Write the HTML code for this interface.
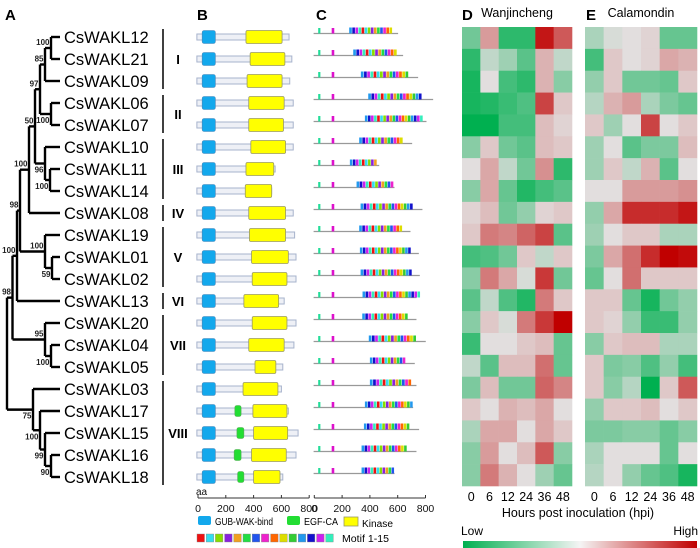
<!DOCTYPE html>
<html><head><meta charset="utf-8"><style>
html,body{margin:0;padding:0;background:#fff;}
svg{display:block;font-family:"Liberation Sans",sans-serif;}
</style></head><body>
<svg id="fig" width="700" height="548" viewBox="0 0 700 548"></svg>
<script>
const genes=["CsWAKL12","CsWAKL21","CsWAKL09","CsWAKL06","CsWAKL07","CsWAKL10","CsWAKL11","CsWAKL14","CsWAKL08","CsWAKL19","CsWAKL01","CsWAKL02","CsWAKL13","CsWAKL20","CsWAKL04","CsWAKL05","CsWAKL03","CsWAKL17","CsWAKL15","CsWAKL16","CsWAKL18"];
// domain structure (aa)
const protLen=[655,675,660,685,685,685,555,530,685,695,705,705,620,705,690,610,600,650,720,705,610];
const kinStart=[345,375,353,365,365,380,345,340,365,370,385,390,330,390,365,410,324,395,400,385,400];
const kinEnd=[605,625,605,620,615,630,545,530,630,630,650,640,580,640,620,560,575,640,645,635,590];
const egfStart=[0,0,0,0,0,0,0,0,0,0,0,0,0,0,0,0,0,265,280,260,285];
const egfEnd=[0,0,0,0,0,0,0,0,0,0,0,0,0,0,0,0,0,310,330,310,330];
// motif map (aa)
const motifLen=[603,639,747,855,807,704,467,577,778,692,752,759,735,735,802,723,735,711,754,735,577];
const motifStart=[251,280,335,388,364,323,256,304,333,323,328,333,347,345,392,400,400,364,357,340,340];
const motifEnd=[563,596,679,775,783,639,452,572,711,635,697,704,764,675,735,658,700,711,687,668,577];
// heatmap values (-1 low/green .. 1 high/red)
const hpi=["0","6","12","24","36","48"];
const wanjincheng=[
[-0.5,0.3,-0.8,-0.8,0.9,0.6],[-0.8,-0.15,-0.3,-0.6,0.2,-0.15],[-0.9,0,-0.7,-0.8,0.2,-0.4],
[-0.9,-0.85,-0.75,-0.65,0.7,0.1],[-1,-1,-0.7,-0.7,0.15,0.05],[-0.4,0.1,-0.5,-0.6,0.15,0.1],
[0,0.25,-0.15,-0.5,0.35,-0.8],[-0.4,0.25,-0.55,-0.85,-0.7,-0.6],[0.05,0.15,-0.5,-0.35,0.05,0.1],
[0.1,0.45,0.4,0.55,0.7,-0.6],[-0.7,-0.65,-0.5,0.1,-0.15,0.1],[-0.4,0.45,0.25,-0.05,0.75,-0.5],
[-0.6,-0.15,-0.65,-0.85,0.45,0.1],[-0.4,0.1,-0.05,0.45,0.75,1],[-0.75,0,0,0.1,0.15,-0.55],
[-0.15,-0.6,0.15,0.15,0.5,-0.55],[-0.45,0.15,-0.5,-0.5,0.55,0.4],[0.1,0,0.2,0.15,0.25,0],
[-0.25,0.25,0.25,0,0.25,0.1],[-0.4,0.3,0,0.15,0.6,-0.4],[-0.4,0.45,0.2,0,-0.3,-0.55]];
const calamondin=[
[-0.25,-0.05,0,0.05,-0.55,-0.55],[-0.7,0.1,0,0.05,0.25,0.2],[-0.35,0.1,-0.5,-0.5,-0.55,0.1],
[-0.2,0.2,0.3,-0.25,-0.45,-0.55],[0.1,-0.3,0,0.7,0,0.1],[-0.3,0,-0.6,-0.45,-0.45,0.15],
[-0.3,0.1,-0.15,0.2,-0.6,0],[0,0,0.3,0.3,0.3,0.35],[-0.35,0.25,0.8,0.8,0.8,0.9],
[-0.3,0,0.1,0.1,-0.25,-0.25],[-0.45,0.25,0.5,0.8,1,0.95],[-0.55,0,0.5,0.1,0.1,0.1],
[0.1,0.1,-0.55,-0.9,-0.5,-0.35],[0.1,0.05,-0.35,-0.75,-0.75,-0.35],[-0.4,0.1,0.15,0.15,-0.25,-0.25],
[0.1,-0.45,-0.4,-0.65,-0.35,-0.7],[0.1,-0.4,-0.2,-1,0.1,0.6],[-0.35,0.1,0.1,0.15,0,0.1],
[-0.45,-0.45,-0.4,-0.4,-0.55,-0.4],[-0.25,0,0,0,-0.55,0],[-0.2,0,-0.35,-0.55,-0.65,-0.9]];
const axisTicks=[0,200,400,600,800];
const motifColors=["#ee1111","#33ddee","#88dd00","#8822dd","#f0a020","#22dd44","#2255ee","#ee22cc","#ff6600","#dddd00","#33cc33","#2299ee","#1111cc","#cc22ee","#33eebb"];

const NS="http://www.w3.org/2000/svg";
const svg=document.getElementById("fig");
function el(tag,attrs,parent,text){const e=document.createElementNS(NS,tag);for(const k in attrs)e.setAttribute(k,attrs[k]);if(text!==undefined)e.textContent=text;(parent||svg).appendChild(e);return e;}
const rowY=i=>37+22*i;

[["A",5],["B",197],["C",316],["D",462],["E",586]].forEach(([t,x])=>{
 const e=el("text",{x:x,y:20,"font-size":15,"font-weight":"bold"},svg,t);
 
 
});

// ---- Tree ----
const gTree=el("g",{fill:"none",stroke:"#000","stroke-width":2.4});


function N(x,ch,bs,below){return {x,ch,bs,below};}
const a=N(51,[0,1],"100",0),b=N(45,[a,2],"85",0),c=N(51,[3,4],"100",1),d=N(40,[b,c],"97",0);
const e_=N(50,[6,7],"100",1),f=N(45,[5,e_],"96",1),g=N(35,[d,f],"50",0),h=N(29,[g,8],"100",0);
const i_=N(52,[10,11],"59",1),j=N(45,[9,i_],"100",0),k=N(20,[h,j],"98",0),l=N(17,[k,12],"100",0);
const m=N(51,[14,15],"100",1),n=N(45,[13,m],"95",0),o=N(12.5,[l,n],"98",0);
const p=N(51,[19,20],"90",1),q=N(45,[18,p],"99",1),r=N(40,[17,q],"100",1),s=N(33,[16,r],"75",1);
const root=N(7,[o,s],"",0);
function layout(nd){nd.ys=nd.ch.map(c=>typeof c==="number"?rowY(c):layout(c));nd.y=(nd.ys[0]+nd.ys[1])/2;return nd.y;}
layout(root);
function draw(nd){
 el("line",{x1:nd.x,y1:nd.ys[0],x2:nd.x,y2:nd.ys[1]},gTree);
 nd.ch.forEach((c,ci)=>{const y=nd.ys[ci];const x2=typeof c==="number"?60:c.x;
  el("line",{x1:nd.x,y1:y,x2:x2,y2:y},gTree);
  if(typeof c!=="number")draw(c);});
 if(nd.bs){const t=el("text",{x:nd.x-1.5,y:nd.below?nd.y+9:nd.y-3,"font-size":8,"font-weight":"bold","text-anchor":"end",fill:"#222",stroke:"none"},gTree,nd.bs);
  }
}
draw(root);
genes.forEach((gname,i)=>{const t=el("text",{x:64,y:rowY(i)+6,"font-size":16.5,fill:"#000"},svg,gname);
 });
const groups=[["I",0,2],["II",3,4],["III",5,7],["IV",8,8],["V",9,11],["VI",12,12],["VII",13,15],["VIII",16,20]];
groups.forEach(([t,s0,s1])=>{
 const gl=el("line",{x1:163,y1:rowY(s0)-8,x2:163,y2:rowY(s1)+8,stroke:"#000","stroke-width":1.5});
 
 const tx=el("text",{x:178,y:(rowY(s0)+rowY(s1))/2+5,"font-size":13,"font-weight":"bold","text-anchor":"middle"},svg,t);
 
});

// ---- Panel B domains ----
const bx=v=>198+v*0.139;
genes.forEach((gname,i)=>{
 const y=rowY(i);
 const gr=el("g",{});
 
 el("rect",{x:bx(-8),y:y-3,width:bx(protLen[i])-bx(-8),height:6,fill:"#eef0f6",stroke:"#a7b3cc","stroke-width":1},gr);
 el("rect",{x:bx(30),y:y-6.5,width:bx(125)-bx(30),height:13,rx:2,fill:"#13a8ec",stroke:"#4a86b8","stroke-width":0.6},gr);
 if(egfEnd[i]>0)el("rect",{x:bx(egfStart[i]),y:y-5.5,width:bx(egfEnd[i])-bx(egfStart[i]),height:11,rx:2,fill:"#22dd33",stroke:"#55aa55","stroke-width":0.6},gr);
 el("rect",{x:bx(kinStart[i]),y:y-6.5,width:bx(kinEnd[i])-bx(kinStart[i]),height:13,rx:1.5,fill:"#ffff00",stroke:"#999966","stroke-width":0.8},gr);
});
function axis(ox,name){
 const ga=el("g",{});
 
 el("line",{x1:ox,y1:498,x2:ox+111.2,y2:498,stroke:"#333","stroke-width":1},ga);
 axisTicks.forEach(t=>{const x=ox+t*0.139;
  el("line",{x1:x,y1:495,x2:x,y2:498,stroke:"#333","stroke-width":1},ga);
  el("text",{x:x,y:512,"font-size":10.5,"text-anchor":"middle",fill:"#111"},ga,String(t));});
}
axis(198,"x-axis-b");
el("text",{x:196,y:495,"font-size":10,fill:"#111"},svg,"aa");
axis(314.3,"x-axis-c");
const lg=el("g",{});

el("rect",{x:198,y:516,width:13,height:9,rx:2,fill:"#13a8ec"},lg);
el("text",{x:215,y:525,"font-size":10,textLength:58,lengthAdjust:"spacingAndGlyphs"},lg,"GUB-WAK-bind");
el("rect",{x:287,y:516,width:13,height:9,rx:2,fill:"#22dd33"},lg);
el("text",{x:304,y:525,"font-size":10,textLength:34,lengthAdjust:"spacingAndGlyphs"},lg,"EGF-CA");
el("rect",{x:344,y:517,width:14,height:9,fill:"#ffff00",stroke:"#999966","stroke-width":0.8},lg);
el("text",{x:362,y:527,"font-size":10,textLength:31,lengthAdjust:"spacingAndGlyphs"},lg,"Kinase");
const ml=el("g",{});

motifColors.forEach((c,ci)=>el("rect",{x:197+ci*9.2,y:534,width:7.5,height:8,fill:c,stroke:"#888","stroke-width":0.4},ml));
el("text",{x:342,y:542,"font-size":10,textLength:47,lengthAdjust:"spacingAndGlyphs"},ml,"Motif 1-15");

// ---- Panel C motifs ----
const cx=v=>314.3+v*0.139;
genes.forEach((gname,i)=>{
 const y=rowY(i)-3.5;
 const gr=el("g",{});
 
 el("line",{x1:cx(-5),y1:y,x2:cx(motifLen[i]),y2:y,stroke:"#999","stroke-width":1.2},gr);
 el("rect",{x:cx(28),y:y-5.5,width:2.2,height:5.5,fill:"#22dd99"},gr);
 el("rect",{x:cx(125),y:y-5.5,width:2.6,height:5.5,fill:"#dd11cc"},gr);
 const x0=cx(motifStart[i]),x1=cx(motifEnd[i]);
 const nb=Math.max(1,Math.round((x1-x0)/3.1));
 const w=(x1-x0)/nb;
 for(let b2=0;b2<nb;b2++){
  el("rect",{x:x0+b2*w,y:y-6,width:w*0.85,height:6,fill:motifColors[(b2+11)%15]},gr);
 }
});

// ---- Heatmaps ----
function col(v){
 const mid=[226,222,222],gr=[0,176,80],rd=[192,0,0];
 const t=Math.min(1,Math.abs(v)),tg=v<0?gr:rd;
 return "rgb("+mid.map((m0,ci)=>Math.round(m0+(tg[ci]-m0)*t)).join(",")+")";
}
function heat(data,x0,x1,name,title){
 const gh=el("g",{});
 
 const cw=(x1-x0)/hpi.length,y0=27,rh=(486-27)/genes.length;
 data.forEach((row,ri)=>row.forEach((v,ci)=>{
  const rc=el("rect",{x:x0+ci*cw,y:y0+ri*rh,width:cw+0.3,height:rh+0.3,fill:col(v)},gh);
  
 }));
 hpi.forEach((h2,ci)=>{const t=el("text",{x:x0+(ci+0.5)*cw,y:501,"font-size":12.5,"text-anchor":"middle"},gh,h2);
  });
 const tt=el("text",{x:(x0+x1)/2,y:17,"font-size":12.5,"text-anchor":"middle"},svg,title);
 
}
heat(wanjincheng,462,572,"heatmap-wanjincheng","Wanjincheng");
heat(calamondin,585,697,"heatmap-calamondin","Calamondin");
const xt=el("text",{x:578,y:517,"font-size":12.5,"text-anchor":"middle"},svg,"Hours post inoculation (hpi)");

const lo=el("text",{x:461,y:535,"font-size":12},svg,"Low");

const hi=el("text",{x:698,y:535,"font-size":12,"text-anchor":"end"},svg,"High");

const defs=el("defs",{});
const lgd=el("linearGradient",{id:"cb",x1:0,x2:1,y1:0,y2:0},defs);
el("stop",{offset:"0",  "stop-color":"#00b050"},lgd);
el("stop",{offset:"0.5","stop-color":"#f4f4f4"},lgd);
el("stop",{offset:"1",  "stop-color":"#c00000"},lgd);
const cb=el("rect",{x:463,y:541,width:234,height:7,fill:"url(#cb)"});

</script>
</body></html>
